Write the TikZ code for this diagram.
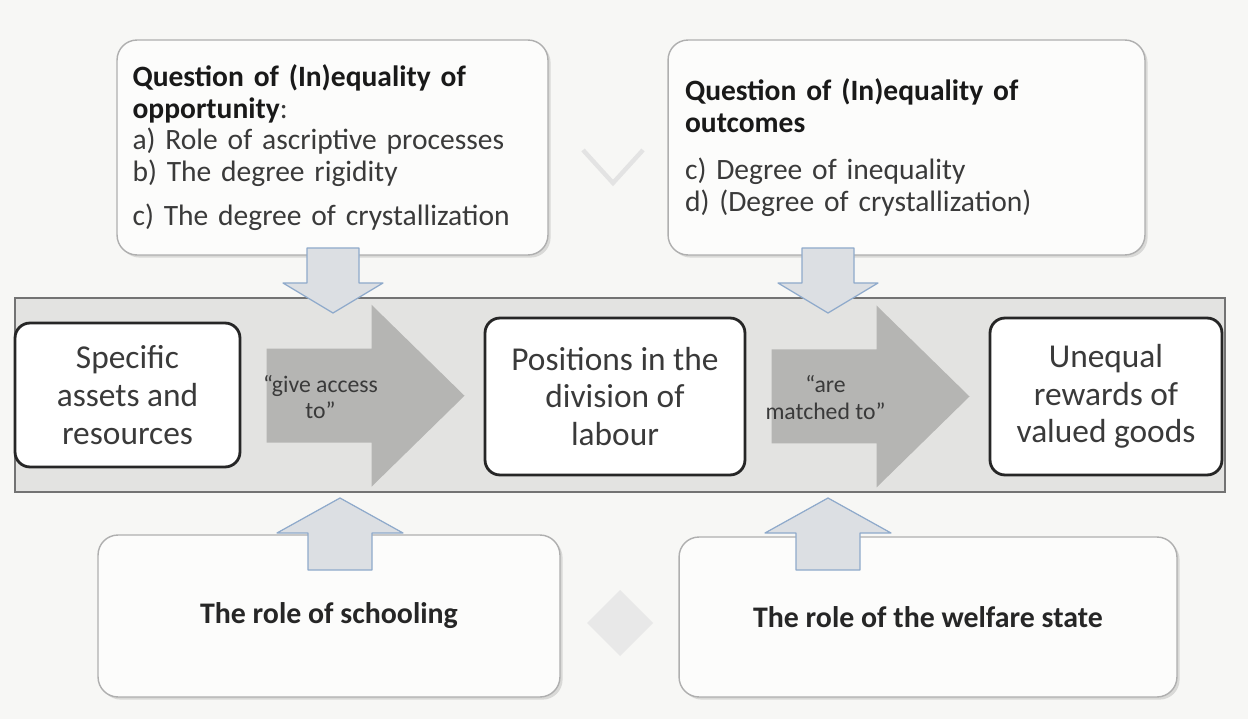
\documentclass[tikz,border=0pt]{standalone}
\usepackage{fontspec}
\setmainfont{Carlito}
\usetikzlibrary{calc,shadows}

\definecolor{paper}{HTML}{F7F7F5}
\definecolor{bandgrey}{HTML}{E3E3E1}
\definecolor{flowgrey}{HTML}{B5B5B3}
\definecolor{inkgrey}{HTML}{3A3A3A}
\definecolor{pushfill}{HTML}{DCDFE3}
\definecolor{pushline}{HTML}{8FAACB}
\definecolor{cardline}{HTML}{AFAFAF}

\tikzset{
  card/.style={draw=cardline, line width=0.8pt, fill=white!60!paper,
    rounded corners=0.4cm,
    drop shadow={shadow xshift=1.5pt, shadow yshift=-1.5pt, opacity=0.25}},
  stage/.style={draw=black!85, line width=1.6pt, fill=white,
    rounded corners=0.3cm, align=center, text=inkgrey,
    font=\fontsize{19}{21.5}\selectfont},
  flow/.style={fill=flowgrey},
  push/.style={draw=pushline, line width=0.7pt, fill=pushfill, line join=round},
}

\begin{document}
\begin{tikzpicture}[x=0.02cm, y=-0.02cm]
    \fill[paper] (0,0) rectangle (1248,719);
    \useasboundingbox (0,0) rectangle (1248,719);

    % faint chevron and diamond between the cards
    \draw[black!11, line width=2.5pt] (583,150) -- (613,183) -- (643,150);
    \fill[black!9] (620,590) -- (653,623) -- (620,656) -- (587,623) -- cycle;

    % the two questions on top
    \node[card, minimum width=8.62cm, minimum height=4.3cm, text width=8cm,
          align=left, text=inkgrey, font=\fontsize{16.8}{18}\selectfont] (opp) at (332.5,147.5)
        {\textcolor{black!90}{\textbf{Question of (In)equality of\\opportunity}}:\\
         a) Role of ascriptive processes\\
         b) The degree rigidity\\[7pt]
         c) The degree of crystallization};
    \node[card, minimum width=9.54cm, minimum height=4.3cm, text width=8.86cm,
          align=left, text=inkgrey, font=\fontsize{16.8}{18.5}\selectfont] (outc) at (906.5,147.5)
        {\textcolor{black!90}{\textbf{Question of (In)equality of\\outcomes}}\\[8pt]
         c) Degree of inequality\\
         d) (Degree of crystallization)};

    % the grey band with the three stages
    \node[draw=black!55, line width=0.8pt, fill=bandgrey,
          minimum width=24.2cm, minimum height=3.88cm] (band) at (620,395) {};
    \node[stage, minimum width=4.5cm, minimum height=2.88cm] (assets) at (127.5,395)
        {Specific\\assets and\\resources};
    \node[stage, minimum width=5.2cm, minimum height=3.14cm] (positions) at (615,396.5)
        {Positions in the\\division of\\labour};
    \node[stage, minimum width=4.64cm, minimum height=3.14cm] (rewards) at (1106,396.5)
        {Unequal\\rewards of\\valued goods};

    \coordinate (g1) at ($(assets.east)!0.5!(positions.west)$);
    \coordinate (g2) at ($(positions.east)!0.5!(rewards.west)$);
    \foreach \g/\lbl in {g1/{“give access\\to”}, g2/{“are\\matched to”}} {
        \fill[flow, shift={(\g)}] (-96,-47) -- (9,-47) -- (9,-91) -- (102,0)
            -- (9,91) -- (9,47) -- (-96,47) -- cycle;
        \node[align=center, text=inkgrey, font=\fontsize{13.5}{15}\selectfont] (\g-label)
            at ($(\g)+(-42,1)$) {\lbl};
    }

    % the two roles below
    \node[card, minimum width=9.24cm, minimum height=3.24cm, text=black!85,
          font=\bfseries\fontsize{17}{19}\selectfont] (school) at (329,616)
        {The role of schooling};
    \node[card, minimum width=9.96cm, minimum height=3.2cm, text=black!85,
          font=\bfseries\fontsize{17}{19}\selectfont] (welfare) at (928,617)
        {The role of the welfare state};

    % small arrows into the band
    \coordinate (d1) at (333,313);
    \coordinate (d2) at (828,313);
    \foreach \t in {d1,d2}
        \draw[push, shift={(\t)}] (0,0) -- (-50,-30) -- (-26,-30) -- (-26,-65)
            -- (26,-65) -- (26,-30) -- (50,-30) -- cycle;
    \coordinate (u1) at (340,498);
    \coordinate (u2) at (828,498);
    \foreach \t in {u1,u2}
        \draw[push, shift={(\t)}] (0,0) -- (63,35) -- (32,35) -- (32,72)
            -- (-32,72) -- (-32,35) -- (-63,35) -- cycle;
\end{tikzpicture}
\end{document}
